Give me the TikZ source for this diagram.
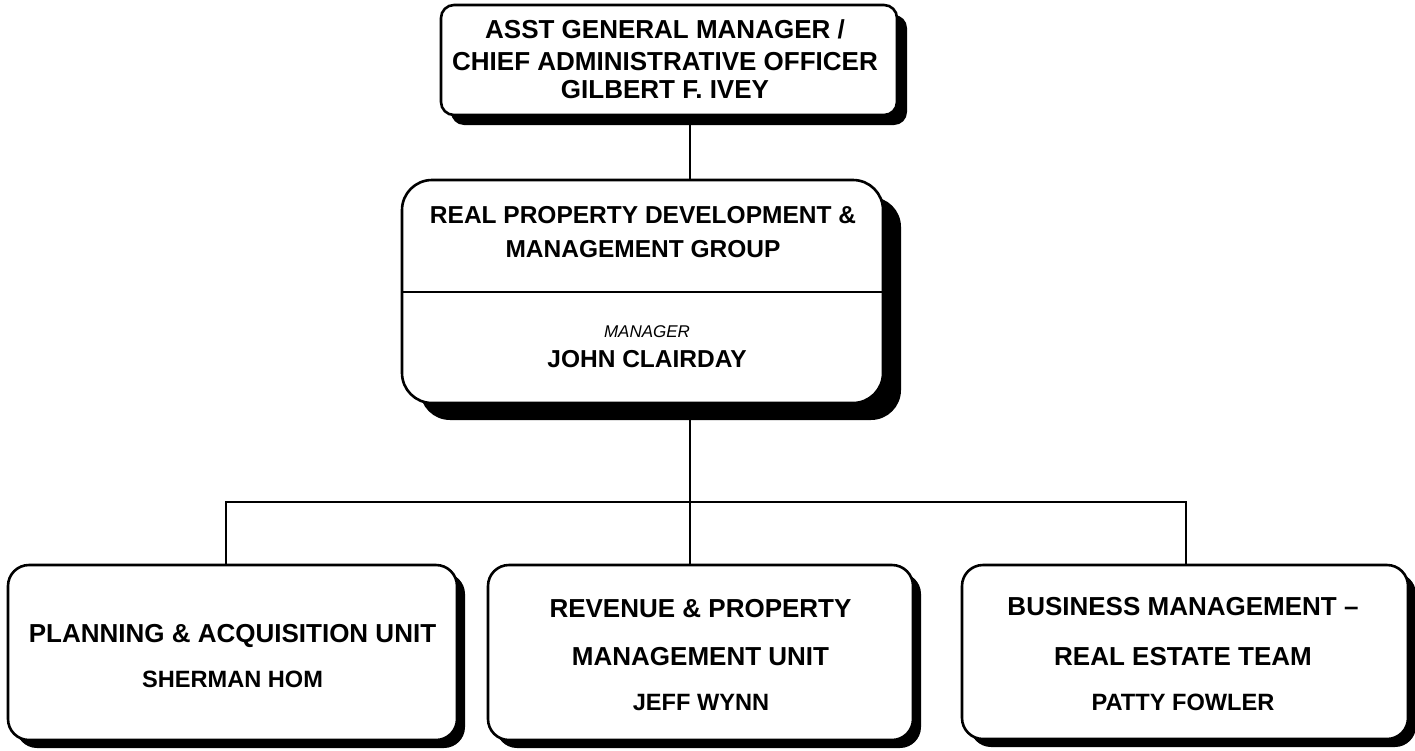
\documentclass[tikz,border=0pt]{standalone}
\usepackage{fontspec}
\setmainfont{Liberation Sans}
\usetikzlibrary{shadows}
\begin{document}
\begin{tikzpicture}[x=1pt,y=-1pt,
  boxbase/.style={draw=black, line width=2.6pt, fill=white, inner sep=0pt, rectangle},
  topbox/.style={boxbase, rounded corners=13pt, drop shadow={shadow xshift=10pt, shadow yshift=-10pt, opacity=1, fill=black}},
  midbox/.style={boxbase, rounded corners=30pt, drop shadow={shadow xshift=18pt, shadow yshift=-17pt, opacity=1, fill=black}},
  unitbox/.style={boxbase, rounded corners=21pt, drop shadow={shadow xshift=8pt, shadow yshift=-8pt, opacity=1, fill=black}},
  conn/.style={draw=black, line width=2pt},
  bigtxt/.style={anchor=base, inner sep=0pt, font=\fontsize{26}{30}\selectfont\bfseries},
  midtxt/.style={anchor=base, inner sep=0pt, font=\fontsize{24.5}{30}\selectfont\bfseries},
  nametxt/.style={anchor=base, inner sep=0pt, font=\fontsize{23.6}{28}\selectfont\bfseries},
  roletxt/.style={anchor=base, inner sep=0pt, font=\fontsize{17}{20}\selectfont\itshape}
]
\useasboundingbox (0,0) rectangle (1415,750);

% connectors (drawn first, boxes cover ends)
\coordinate (v) at (690,0);
\coordinate (bus) at (690,502);
\coordinate (j1) at (226,502);
\coordinate (j3) at (1186,502);

% boxes
\node[topbox, minimum width=456pt, minimum height=110pt] (top) at (669,60) {};
\node[midbox, minimum width=481pt, minimum height=223pt] (mid) at (642.5,291.5) {};
\node[unitbox, minimum width=449pt, minimum height=175pt] (b1) at (232.5,652.5) {};
\node[unitbox, minimum width=425pt, minimum height=175pt] (b2) at (700.5,652.5) {};
\node[unitbox, minimum width=446pt, minimum height=174pt] (b3) at (1185,652) {};

\draw[conn] (top.south -| v) -- (mid.north -| v);
\draw[conn] (mid.south -| v) -- (bus);
\draw[conn] (b1.north -| j1) -- (j1) -- (j3) -- (b3.north -| j3);
\draw[conn] (bus) -- (b2.north -| bus);

% divider in middle box
\coordinate (dl) at (402,292);
\coordinate (dr) at (883,292);
\draw[line width=1.6pt] (dl) -- (dr);

% texts
\node[bigtxt] (t1) at (665,38) {ASST GENERAL MANAGER /};
\node[bigtxt] (t2) at (665,70) {CHIEF ADMINISTRATIVE OFFICER};
\node[bigtxt] (t3) at (665,98) {GILBERT F. IVEY};

\node[midtxt] (m1) at (643,223) {REAL PROPERTY DEVELOPMENT \&};
\node[midtxt] (m2) at (643,257) {MANAGEMENT GROUP};
\node[roletxt] (m3) at (647,337) {MANAGER};
\node[midtxt] (m4) at (647,367) {JOHN CLAIRDAY};

\node[bigtxt] (p1) at (232.5,642) {PLANNING \& ACQUISITION UNIT};
\node[nametxt] (p2) at (232.5,687) {SHERMAN HOM};

\node[bigtxt] (r1) at (700.5,617) {REVENUE \& PROPERTY};
\node[bigtxt] (r2) at (700.5,665) {MANAGEMENT UNIT};
\node[nametxt] (r3) at (701,710) {JEFF WYNN};

\node[bigtxt] (s1) at (1183,615) {BUSINESS MANAGEMENT –};
\node[bigtxt] (s2) at (1183,665) {REAL ESTATE TEAM};
\node[nametxt] (s3) at (1183,710) {PATTY FOWLER};
\end{tikzpicture}
\end{document}
